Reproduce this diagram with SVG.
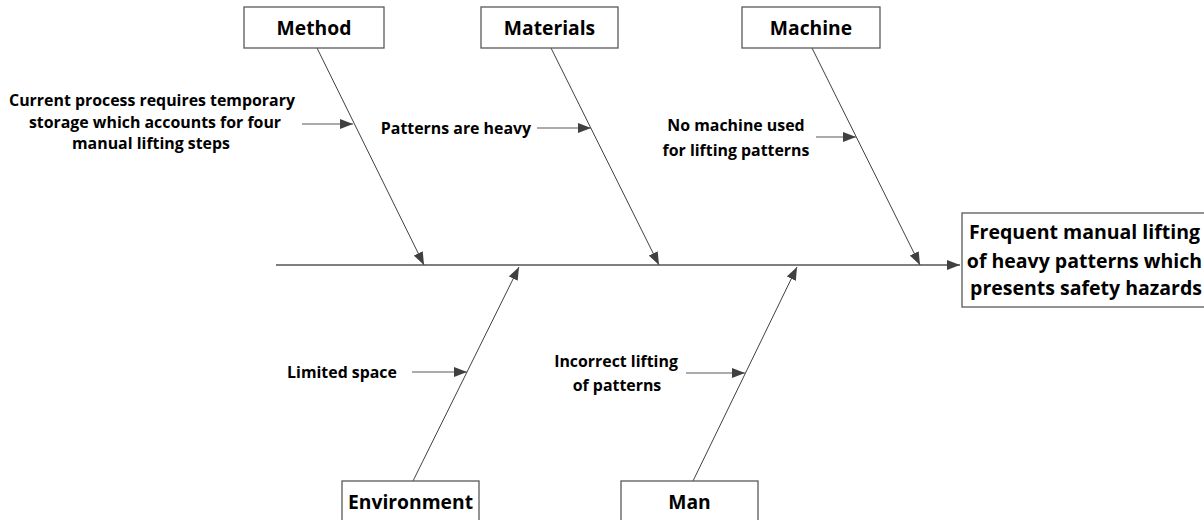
<svg xmlns="http://www.w3.org/2000/svg" width="1204" height="520" viewBox="0 0 1204 520">
<style>
.box{fill:#fff;stroke:#595959;stroke-width:1.3}
.lbl{font-family:"Open Sans","Liberation Sans",sans-serif;font-weight:bold;font-size:19.3px;fill:#000;text-anchor:middle}
.txt{font-family:"Open Sans","Liberation Sans",sans-serif;font-weight:bold;font-size:15.9px;fill:#000;text-anchor:middle}
.eff{font-family:"Open Sans","Liberation Sans",sans-serif;font-weight:bold;font-size:19.5px;fill:#000;text-anchor:middle}
.bone{stroke:#404040;stroke-width:1;fill:none}
.spine{stroke:#7f7f7f;stroke-width:2;fill:none}
.sub{stroke:#595959;stroke-width:1.2;fill:none}
</style>
<defs>
<marker id="ah" markerUnits="userSpaceOnUse" markerWidth="14" markerHeight="10" viewBox="0 0 14 10" refX="13" refY="5" orient="auto">
<path d="M0,0 L13,5 L0,10 z" fill="#404040"/>
</marker>
</defs>
<rect width="1204" height="520" fill="#fff"/>
<g id="connectors">
<line class="spine" x1="276" y1="265" x2="960" y2="265" marker-end="url(#ah)"/>
<line class="bone" x1="317" y1="48" x2="424" y2="265" marker-end="url(#ah)"/>
<line class="bone" x1="551" y1="48" x2="659" y2="265" marker-end="url(#ah)"/>
<line class="bone" x1="812" y1="48" x2="920" y2="265" marker-end="url(#ah)"/>
<line class="bone" x1="413" y1="481" x2="519" y2="267" marker-end="url(#ah)"/>
<line class="bone" x1="693" y1="481" x2="797" y2="267" marker-end="url(#ah)"/>
<line class="sub" x1="302" y1="124" x2="353" y2="124" marker-end="url(#ah)"/>
<line class="sub" x1="537" y1="128" x2="591" y2="128" marker-end="url(#ah)"/>
<line class="sub" x1="816" y1="137" x2="856" y2="137" marker-end="url(#ah)"/>
<line class="sub" x1="412" y1="372" x2="467" y2="372" marker-end="url(#ah)"/>
<line class="sub" x1="686" y1="373" x2="745" y2="373" marker-end="url(#ah)"/>
</g>
<g id="method">
<rect class="box" x="244" y="7" width="140" height="41"/>
<text class="lbl" x="314" y="35">Method</text>
</g>
<g id="materials">
<rect class="box" x="481" y="7" width="137" height="41"/>
<text class="lbl" x="549.5" y="35">Materials</text>
</g>
<g id="machine">
<rect class="box" x="742" y="7" width="138" height="41"/>
<text class="lbl" x="811" y="35">Machine</text>
</g>
<g id="environment">
<rect class="box" x="342" y="481" width="137" height="45"/>
<text class="lbl" x="410.5" y="509">Environment</text>
</g>
<g id="man">
<rect class="box" x="621" y="481" width="137" height="45"/>
<text class="lbl" x="689.5" y="509">Man</text>
</g>
<g id="effect">
<rect class="box" x="962" y="213" width="244" height="94"/>
<text class="eff" x="1084.5" y="239">Frequent manual lifting</text>
<text class="eff" x="1084.5" y="268">of heavy patterns which</text>
<text class="eff" x="1086" y="295">presents safety hazards</text>
</g>
<g id="cause-method">
<text class="txt" x="152" y="106">Current process requires temporary</text>
<text class="txt" x="155" y="128">storage which accounts for four</text>
<text class="txt" x="151" y="149">manual lifting steps</text>
</g>
<g id="cause-materials">
<text class="txt" x="456" y="134">Patterns are heavy</text>
</g>
<g id="cause-machine">
<text class="txt" x="736" y="131">No machine used</text>
<text class="txt" x="736" y="156">for lifting patterns</text>
</g>
<g id="cause-environment">
<text class="txt" x="342" y="378">Limited space</text>
</g>
<g id="cause-man">
<text class="txt" x="616" y="367">Incorrect lifting</text>
<text class="txt" x="617" y="391">of patterns</text>
</g>
</svg>
